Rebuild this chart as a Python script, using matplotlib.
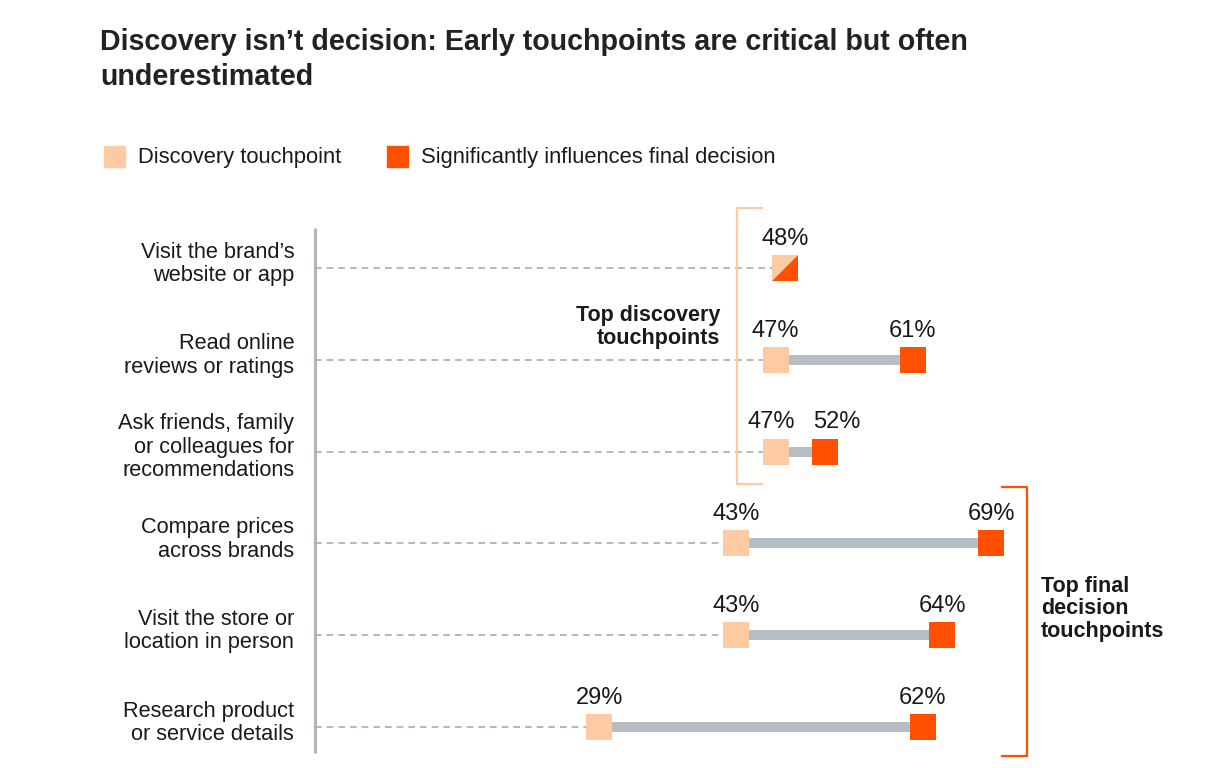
import matplotlib
matplotlib.use('Agg')
import matplotlib.pyplot as plt
from matplotlib.lines import Line2D

plt.rcParams['font.family'] = ['Liberation Sans', 'DejaVu Sans']

categories = [
    "Visit the brand\u2019s\nwebsite or app",
    "Read online\nreviews or ratings",
    "Ask friends, family\nor colleagues for\nrecommendations",
    "Compare prices\nacross brands",
    "Visit the store or\nlocation in person",
    "Research product\nor service details",
]
discovery = [48, 47, 47, 43, 43, 29]
final_decision = [48, 61, 52, 69, 64, 62]

LIGHT = '#fdcaa2'
DARK = '#fe5000'
GREY = '#b5bdc5'
TXT = '#1a1a1a'

W, H = 1215, 768
fig = plt.figure(figsize=(W / 100, H / 100), dpi=100)


def fx(x):
    return x / W


def fy(y):
    return 1 - y / H


# axes covering the whole figure, x scale 9.8 px per percent, rows 91.8 px apart
ax = fig.add_axes([0, 0, 1, 1])
ax.set_xlim(-315 / 9.8, (W - 315) / 9.8)
ax.set_ylim((H - 268) / 91.8, -268 / 91.8)
ax.axis('off')

# vertical axis line
ax.plot([0, 0], [-0.44, 5.28], color='#b0b4bc', lw=2.2, solid_capstyle='butt', zorder=1)

msize = 19.4 ** 2
tri_lo = [(-1, -1), (1, -1), (1, 1)]
tri_hi = [(-1, -1), (-1, 1), (1, 1)]


def value_label(x, y, dx=0):
    ax.annotate(f'{x}%', xy=(x, y), xytext=(dx, 21), textcoords='offset points',
                ha='center', va='center', fontsize=17, color=TXT)


for i, (cat, d, f) in enumerate(zip(categories, discovery, final_decision)):
    ax.plot([0, d], [i, i], color='#a6adb8', lw=1.2, ls=(0, (4, 3)), zorder=1)
    ax.annotate(cat, xy=(0, i), xytext=(-15, 3), textcoords='offset points',
                ha='right', va='center', fontsize=15.7, color=TXT, linespacing=1.16)
    if d == f:
        ax.scatter([d], [i], marker=tri_hi, s=msize, color=LIGHT, lw=0, zorder=3)
        ax.scatter([f], [i], marker=tri_lo, s=msize, color=DARK, lw=0, zorder=3)
        value_label(d, i)
    else:
        ax.plot([d, f], [i, i], color=GREY, lw=7.2, solid_capstyle='butt', zorder=2)
        ax.scatter([d], [i], marker='s', s=msize, color=LIGHT, lw=0, zorder=3)
        ax.scatter([f], [i], marker='s', s=msize, color=DARK, lw=0, zorder=3)
        # push labels apart when the two points sit close together
        near = (f - d) < 8
        value_label(d, i, -3 if near else 0)
        value_label(f, i, 9 if near else 0)

# title
fig.text(fx(100), fy(50), "Discovery isn\u2019t decision: Early touchpoints are critical but often",
         ha='left', va='baseline', fontsize=20.6, fontweight='bold', color='#222222')
fig.text(fx(100), fy(85), "underestimated",
         ha='left', va='baseline', fontsize=20.6, fontweight='bold', color='#222222')

# legend
fig.patches.append(plt.Rectangle((fx(104), fy(167)), 21 / W, 21 / H, color=LIGHT,
                                 transform=fig.transFigure, figure=fig))
fig.text(fx(138), fy(157), "Discovery touchpoint", ha='left', va='center', fontsize=15.8, color=TXT)
fig.patches.append(plt.Rectangle((fx(387), fy(167)), 21 / W, 21 / H, color=DARK,
                                 transform=fig.transFigure, figure=fig))
fig.text(fx(421), fy(157), "Significantly influences final decision", ha='left', va='center',
         fontsize=15.8, color=TXT)

# brackets
fig.add_artist(Line2D([fx(762), fx(737), fx(737), fx(762)], [fy(208), fy(208), fy(484), fy(484)],
                      color=LIGHT, lw=1.6, transform=fig.transFigure))
fig.text(fx(720), fy(327), "Top discovery\ntouchpoints", ha='right', va='center', fontsize=15.5,
         fontweight='bold', color=TXT, multialignment='right', linespacing=1.12)

fig.add_artist(Line2D([fx(1002), fx(1027), fx(1027), fx(1002)], [fy(487), fy(487), fy(756), fy(756)],
                      color=DARK, lw=1.6, transform=fig.transFigure))
fig.text(fx(1041), fy(609), "Top final\ndecision\ntouchpoints", ha='left', va='center', fontsize=15.5,
         fontweight='bold', color=TXT, linespacing=1.12)

fig.savefig('out.png', dpi=100)
